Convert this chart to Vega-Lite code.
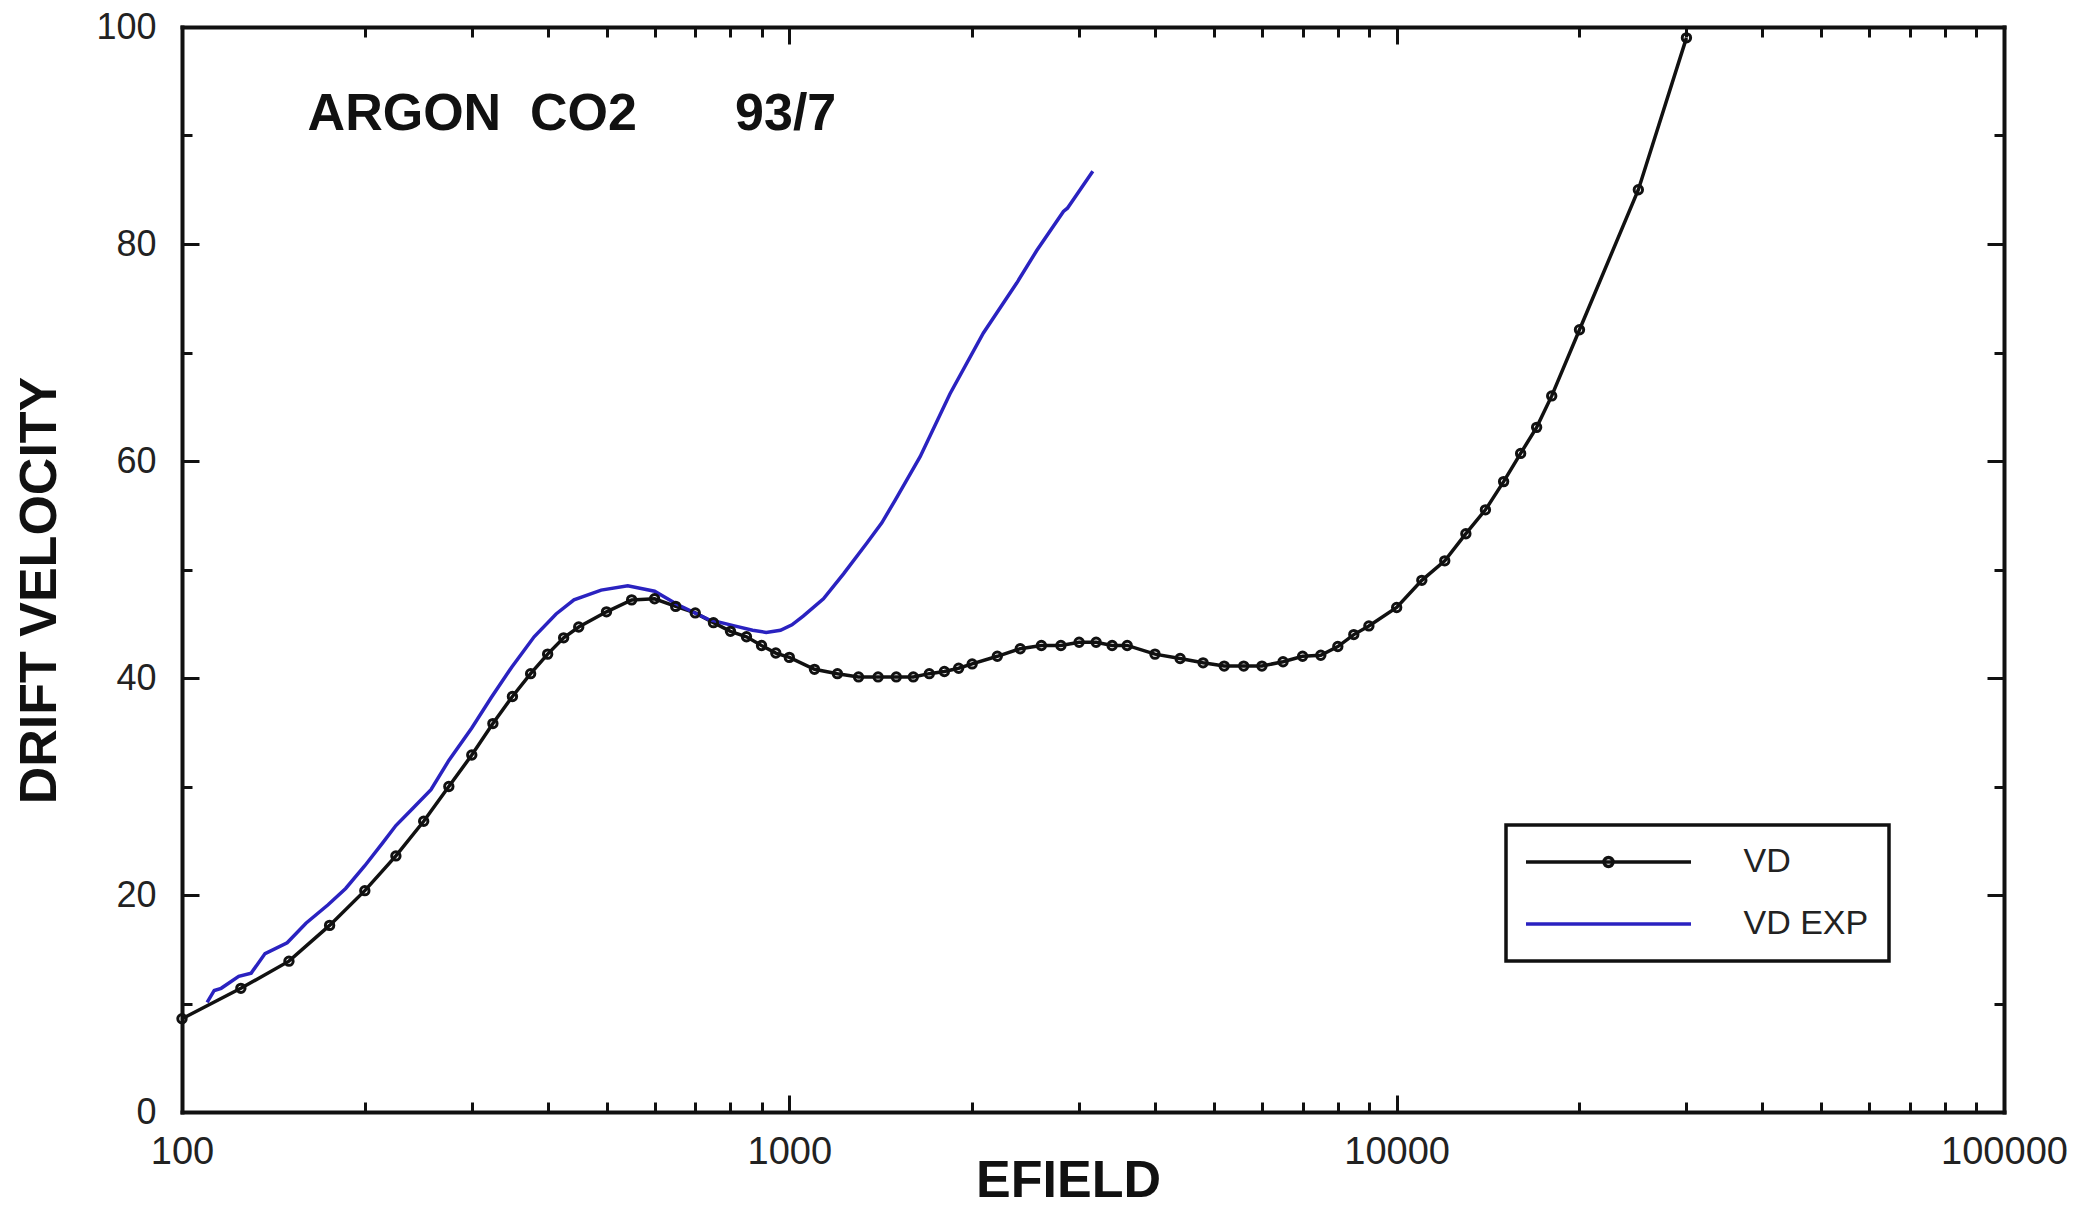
{
  "$schema": "https://vega.github.io/schema/vega-lite/v6.json",
  "width": 1822,
  "height": 1085,
  "autosize": {"type": "none"},
  "padding": {"left": 182, "top": 27, "right": 81, "bottom": 96},
  "background": "white",
  "config": {
    "view": {"stroke": null},
    "font": "Liberation Sans",
    "axis": {"grid": false, "labelFont": "Liberation Sans", "titleFont": "Liberation Sans", "domainColor": "#111", "tickColor": "#111", "domainWidth": 4, "tickWidth": 3, "domainCap": "square", "labelColor": "#222", "titleColor": "#111"}
  },
  "datasets": {
    "curves": [
      {"series": "VD", "E": 100, "V": 8.6},
      {"series": "VD", "E": 125, "V": 11.4},
      {"series": "VD", "E": 150, "V": 13.9},
      {"series": "VD", "E": 175, "V": 17.2},
      {"series": "VD", "E": 200, "V": 20.4},
      {"series": "VD", "E": 225, "V": 23.6},
      {"series": "VD", "E": 250, "V": 26.8},
      {"series": "VD", "E": 275, "V": 30.0},
      {"series": "VD", "E": 300, "V": 32.9},
      {"series": "VD", "E": 325, "V": 35.8},
      {"series": "VD", "E": 350, "V": 38.3},
      {"series": "VD", "E": 375, "V": 40.4},
      {"series": "VD", "E": 400, "V": 42.2},
      {"series": "VD", "E": 425, "V": 43.7},
      {"series": "VD", "E": 450, "V": 44.7},
      {"series": "VD", "E": 500, "V": 46.1},
      {"series": "VD", "E": 550, "V": 47.2},
      {"series": "VD", "E": 600, "V": 47.3},
      {"series": "VD", "E": 650, "V": 46.6},
      {"series": "VD", "E": 700, "V": 46.0},
      {"series": "VD", "E": 750, "V": 45.1},
      {"series": "VD", "E": 800, "V": 44.3},
      {"series": "VD", "E": 850, "V": 43.8},
      {"series": "VD", "E": 900, "V": 43.0},
      {"series": "VD", "E": 950, "V": 42.3},
      {"series": "VD", "E": 1000, "V": 41.9},
      {"series": "VD", "E": 1100, "V": 40.8},
      {"series": "VD", "E": 1200, "V": 40.4},
      {"series": "VD", "E": 1300, "V": 40.1},
      {"series": "VD", "E": 1400, "V": 40.1},
      {"series": "VD", "E": 1500, "V": 40.1},
      {"series": "VD", "E": 1600, "V": 40.1},
      {"series": "VD", "E": 1700, "V": 40.4},
      {"series": "VD", "E": 1800, "V": 40.6},
      {"series": "VD", "E": 1900, "V": 40.9},
      {"series": "VD", "E": 2000, "V": 41.3},
      {"series": "VD", "E": 2200, "V": 42.0},
      {"series": "VD", "E": 2400, "V": 42.7},
      {"series": "VD", "E": 2600, "V": 43.0},
      {"series": "VD", "E": 2800, "V": 43.0},
      {"series": "VD", "E": 3000, "V": 43.3},
      {"series": "VD", "E": 3200, "V": 43.3},
      {"series": "VD", "E": 3400, "V": 43.0},
      {"series": "VD", "E": 3600, "V": 43.0},
      {"series": "VD", "E": 4000, "V": 42.2},
      {"series": "VD", "E": 4400, "V": 41.8},
      {"series": "VD", "E": 4800, "V": 41.4},
      {"series": "VD", "E": 5200, "V": 41.1},
      {"series": "VD", "E": 5600, "V": 41.1},
      {"series": "VD", "E": 6000, "V": 41.1},
      {"series": "VD", "E": 6500, "V": 41.5},
      {"series": "VD", "E": 7000, "V": 42.0},
      {"series": "VD", "E": 7500, "V": 42.1},
      {"series": "VD", "E": 8000, "V": 42.9},
      {"series": "VD", "E": 8500, "V": 44.0},
      {"series": "VD", "E": 9000, "V": 44.8},
      {"series": "VD", "E": 10000, "V": 46.5},
      {"series": "VD", "E": 11000, "V": 49.0},
      {"series": "VD", "E": 12000, "V": 50.8},
      {"series": "VD", "E": 13000, "V": 53.3},
      {"series": "VD", "E": 14000, "V": 55.5},
      {"series": "VD", "E": 15000, "V": 58.1},
      {"series": "VD", "E": 16000, "V": 60.7},
      {"series": "VD", "E": 17000, "V": 63.1},
      {"series": "VD", "E": 18000, "V": 66.0},
      {"series": "VD", "E": 20000, "V": 72.1},
      {"series": "VD", "E": 25000, "V": 85.0},
      {"series": "VD", "E": 30000, "V": 99.0},
      {"series": "VD EXP", "E": 110, "V": 10.1},
      {"series": "VD EXP", "E": 113, "V": 11.2},
      {"series": "VD EXP", "E": 116, "V": 11.4},
      {"series": "VD EXP", "E": 124, "V": 12.5},
      {"series": "VD EXP", "E": 130, "V": 12.8},
      {"series": "VD EXP", "E": 137, "V": 14.6},
      {"series": "VD EXP", "E": 149, "V": 15.6},
      {"series": "VD EXP", "E": 160, "V": 17.4},
      {"series": "VD EXP", "E": 174, "V": 19.1},
      {"series": "VD EXP", "E": 186, "V": 20.6},
      {"series": "VD EXP", "E": 200, "V": 22.7},
      {"series": "VD EXP", "E": 214, "V": 24.8},
      {"series": "VD EXP", "E": 225, "V": 26.4},
      {"series": "VD EXP", "E": 240, "V": 28.0},
      {"series": "VD EXP", "E": 257, "V": 29.7},
      {"series": "VD EXP", "E": 275, "V": 32.4},
      {"series": "VD EXP", "E": 300, "V": 35.4},
      {"series": "VD EXP", "E": 323, "V": 38.2},
      {"series": "VD EXP", "E": 349, "V": 41.0},
      {"series": "VD EXP", "E": 380, "V": 43.8},
      {"series": "VD EXP", "E": 413, "V": 45.9},
      {"series": "VD EXP", "E": 442, "V": 47.2},
      {"series": "VD EXP", "E": 490, "V": 48.1},
      {"series": "VD EXP", "E": 542, "V": 48.5},
      {"series": "VD EXP", "E": 600, "V": 48.0},
      {"series": "VD EXP", "E": 653, "V": 46.8},
      {"series": "VD EXP", "E": 735, "V": 45.4},
      {"series": "VD EXP", "E": 812, "V": 44.8},
      {"series": "VD EXP", "E": 870, "V": 44.4},
      {"series": "VD EXP", "E": 916, "V": 44.2},
      {"series": "VD EXP", "E": 967, "V": 44.4},
      {"series": "VD EXP", "E": 1010, "V": 44.9},
      {"series": "VD EXP", "E": 1054, "V": 45.7},
      {"series": "VD EXP", "E": 1138, "V": 47.3},
      {"series": "VD EXP", "E": 1228, "V": 49.6},
      {"series": "VD EXP", "E": 1340, "V": 52.4},
      {"series": "VD EXP", "E": 1420, "V": 54.3},
      {"series": "VD EXP", "E": 1494, "V": 56.4},
      {"series": "VD EXP", "E": 1642, "V": 60.4},
      {"series": "VD EXP", "E": 1839, "V": 66.2},
      {"series": "VD EXP", "E": 2087, "V": 71.8},
      {"series": "VD EXP", "E": 2368, "V": 76.4},
      {"series": "VD EXP", "E": 2555, "V": 79.4},
      {"series": "VD EXP", "E": 2827, "V": 83.0},
      {"series": "VD EXP", "E": 2870, "V": 83.3},
      {"series": "VD EXP", "E": 3160, "V": 86.7}
    ],
    "notes": [
      {"id": "gas", "text": "ARGON\u00a0\u00a0CO2", "E": 161, "V": 90.5},
      {"id": "mix", "text": "93/7", "E": 814, "V": 90.5}
    ]
  },
  "layer": [
    {
      "data": {"name": "curves"},
      "mark": {"type": "line", "strokeWidth": 3.5},
      "encoding": {
        "x": {"field": "E", "type": "quantitative",
          "scale": {"type": "log", "domain": [100, 100000], "nice": false},
          "axis": {"orient": "bottom", "values": [100, 1000, 10000, 100000], "format": "d", "tickSize": -17, "labelPadding": 38, "labelFontSize": 38, "labelBaseline": "top", "labelFlush": false, "labelOverlap": false,
            "title": "EFIELD", "titleFontSize": 52, "titleFontWeight": "bold", "titleX": 886, "titleY": 84, "titleAlign": "center", "titleBaseline": "alphabetic"}},
        "y": {"field": "V", "type": "quantitative",
          "scale": {"domain": [0, 100], "nice": false, "zero": false},
          "axis": {"orient": "left", "values": [0, 20, 40, 60, 80, 100], "tickSize": -17, "labelPadding": 43, "labelFontSize": 36, "labelFlush": false, "labelOverlap": false,
            "title": "DRIFT VELOCITY", "titleFontSize": 52, "titleFontWeight": "bold", "titleX": -127, "titleY": 563, "titleAngle": -90, "titleAlign": "center", "titleBaseline": "alphabetic"}},
        "color": {"field": "series", "type": "nominal",
          "scale": {"domain": ["VD", "VD EXP"], "range": ["#111111", "#2a22c0"]},
          "legend": {
            "orient": "none", "legendX": 1324, "legendY": 798, "title": null,
            "strokeColor": "#111", "padding": 20,
            "labelFont": "Liberation Sans", "labelFontSize": 34, "labelColor": "#222",
            "symbolSize": 400, "symbolStrokeWidth": 3, "symbolOffset": 65.5, "labelOffset": 118, "rowPadding": 28,
            "encode": {
              "legend": {"update": {"strokeWidth": {"value": 3.5}}},
              "symbols": {"update": {"shape": {"signal": "datum.value === 'VD' ? 'M-8.25,0L8.25,0M-0.45,0A0.45,0.45 0 1,0 0.45,0A0.45,0.45 0 1,0 -0.45,0' : 'M-8.25,0L8.25,0'"}, "strokeWidth": {"value": 3.5}, "fill": {"value": "white"}}}
            }
          }}
      }
    },
    {
      "data": {"name": "curves"},
      "transform": [{"filter": "datum.series === 'VD'"}],
      "mark": {"type": "point", "shape": "circle", "filled": false, "size": 70, "strokeWidth": 3, "opacity": 1, "color": "#111"},
      "encoding": {
        "x": {"field": "E", "type": "quantitative",
          "axis": {"orient": "bottom", "values": [200, 300, 400, 500, 600, 700, 800, 900, 2000, 3000, 4000, 5000, 6000, 7000, 8000, 9000, 20000, 30000, 40000, 50000, 60000, 70000, 80000, 90000], "tickSize": -10, "labels": false, "domain": false, "title": null}},
        "y": {"field": "V", "type": "quantitative",
          "axis": {"orient": "left", "values": [10, 30, 50, 70, 90], "tickSize": -10, "labels": false, "domain": false, "title": null}}
      }
    },
    {
      "data": {"name": "notes"},
      "transform": [{"filter": "datum.id === 'gas'"}],
      "mark": {"type": "text", "align": "left", "baseline": "alphabetic", "font": "Liberation Sans", "fontSize": 52, "fontWeight": "bold", "color": "#111"},
      "encoding": {
        "text": {"field": "text"},
        "x": {"field": "E", "type": "quantitative",
          "axis": {"orient": "top", "values": [100, 1000, 10000, 100000], "tickSize": -17, "labels": false, "title": null}},
        "y": {"field": "V", "type": "quantitative",
          "axis": {"orient": "right", "values": [0, 20, 40, 60, 80, 100], "tickSize": -17, "labels": false, "title": null}}
      }
    },
    {
      "data": {"name": "notes"},
      "transform": [{"filter": "datum.id === 'mix'"}],
      "mark": {"type": "text", "align": "left", "baseline": "alphabetic", "font": "Liberation Sans", "fontSize": 52, "fontWeight": "bold", "color": "#111"},
      "encoding": {
        "text": {"field": "text"},
        "x": {"field": "E", "type": "quantitative",
          "axis": {"orient": "top", "values": [200, 300, 400, 500, 600, 700, 800, 900, 2000, 3000, 4000, 5000, 6000, 7000, 8000, 9000, 20000, 30000, 40000, 50000, 60000, 70000, 80000, 90000], "tickSize": -10, "labels": false, "domain": false, "title": null}},
        "y": {"field": "V", "type": "quantitative",
          "axis": {"orient": "right", "values": [10, 30, 50, 70, 90], "tickSize": -10, "labels": false, "domain": false, "title": null}}
      }
    }
  ],
  "resolve": {"axis": {"x": "independent", "y": "independent"}}
}
